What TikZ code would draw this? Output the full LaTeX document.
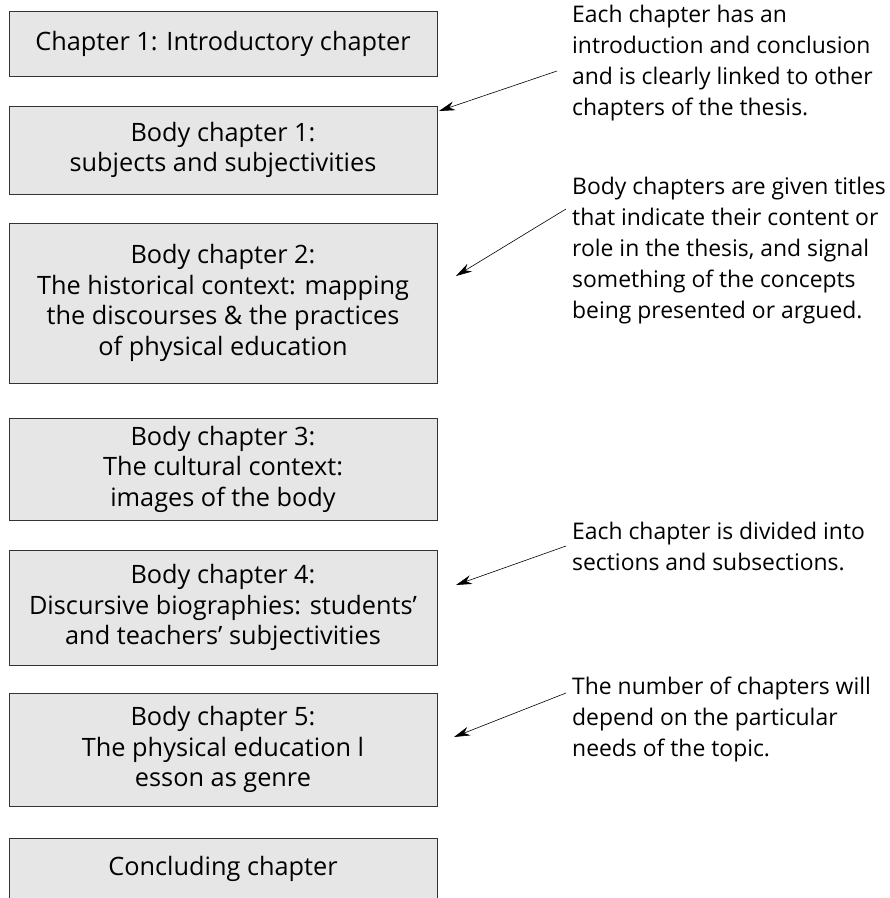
\documentclass[tikz,border=0pt]{standalone}
\usepackage{fontspec}
\setmainfont{Open Sans}
\usetikzlibrary{arrows.meta}
\definecolor{boxgray}{HTML}{E6E6E6}
\tikzset{
  chapbox/.style={draw=black!80, line width=0.9pt, fill=boxgray, minimum width=428pt,
    align=center, inner sep=0pt, font=\fontsize{25.3}{30.5}\selectfont},
  note/.style={anchor=north west, align=left, inner sep=0pt, font=\fontsize{22.9}{31}\selectfont},
  pointer/.style={-{Stealth[length=16pt,width=9pt]}, line width=0.6pt}
}
\begin{document}
\begin{tikzpicture}[x=1pt,y=1pt]
  \useasboundingbox (0,0) rectangle (890,-898);
  % chapters
  \draw (223,-43.5) node[chapbox, minimum height=65pt] (intro) {Chapter 1: Introductory chapter};
  \draw (223,-150) node[chapbox, minimum height=88pt] (body1) {Body chapter 1:\\ subjects and subjectivities};
  \draw (223,-303) node[chapbox, minimum height=160pt] (body2) {Body chapter 2:\\ The historical context: mapping\\ the discourses \& the practices\\ of physical education};
  \draw (223,-469) node[chapbox, minimum height=102pt] (body3) {Body chapter 3:\\ The cultural context:\\ images of the body};
  \draw (223,-607.5) node[chapbox, minimum height=115pt] (body4) {Body chapter 4:\\ Discursive biographies: students'\\ and teachers' subjectivities};
  \draw (223,-749.5) node[chapbox, minimum height=113pt] (body5) {Body chapter 5:\\ The physical education l\\ esson as genre};
  \draw (223,-869) node[chapbox, minimum height=62pt] (concl) {Concluding chapter};

  % notes
  \draw (572,-5) node[note] (linked) {Each chapter has an\\ introduction and conclusion\\ and is clearly linked to other\\ chapters of the thesis.};
  \draw (572,-177) node[note] (titles) {Body chapters are given titles\\ that indicate their content or\\ role in the thesis, and signal\\ something of the concepts\\ being presented or argued.};
  \draw (572,-522) node[note] (sections) {Each chapter is divided into\\ sections and subsections.};
  \draw (572,-677) node[note] (number) {The number of chapters will\\ depend on the particular\\ needs of the topic.};

  \coordinate (linked tail) at (557,-71);
  \coordinate (linked tip) at (439,-111);
  \coordinate (titles tail) at (566,-209);
  \coordinate (titles tip) at (456,-276);
  \coordinate (sections tail) at (566,-546);
  \coordinate (sections tip) at (456,-585);
  \coordinate (number tail) at (566,-693);
  \coordinate (number tip) at (454,-737);

  \path
  (linked tail) edge[pointer] (linked tip)
  (titles tail) edge[pointer] (titles tip)
  (sections tail) edge[pointer] (sections tip)
  (number tail) edge[pointer] (number tip)
  ;
\end{tikzpicture}
\end{document}
